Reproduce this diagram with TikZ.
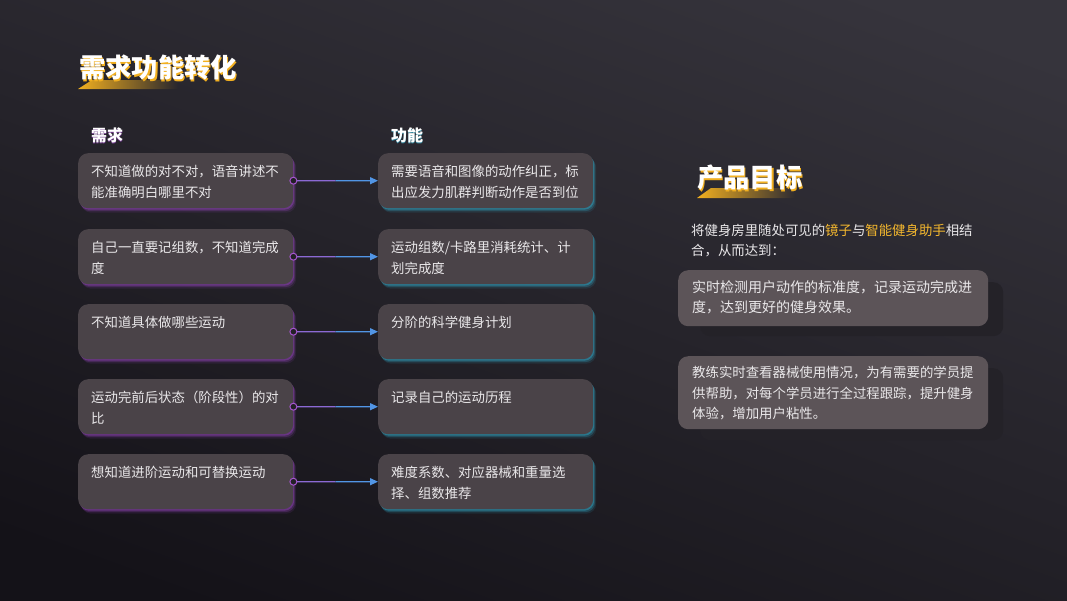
\documentclass[tikz,border=0pt]{standalone}
\usepackage{fontspec}
\setmainfont{Noto Sans CJK SC}
\usetikzlibrary{positioning,arrows.meta,shadows,calc,fadings}

\definecolor{bgtop}{RGB}{54,52,60}
\definecolor{bgbot}{RGB}{20,18,24}
\definecolor{boxfill}{RGB}{74,67,72}
\definecolor{goalfill}{RGB}{92,84,88}
\definecolor{goalshade}{RGB}{36,34,40}
\definecolor{glowpurple}{RGB}{150,70,190}
\definecolor{glowcyan}{RGB}{50,170,200}
\definecolor{linkpurple}{RGB}{165,85,205}
\definecolor{linkblue}{RGB}{60,165,235}
\definecolor{titleyellow}{RGB}{242,176,32}
\definecolor{hiyellow}{RGB}{245,184,46}
\definecolor{textgrey}{RGB}{234,232,234}

\tikzset{
  cardbox/.style={rounded corners=10pt, fill=boxfill, minimum width=215pt,
    minimum height=55pt, anchor=north west, inner sep=0pt},
  needbox/.style={cardbox,
    drop shadow={shadow xshift=1pt, shadow yshift=-1.5pt, fill=glowpurple, opacity=0.45},
    drop shadow={shadow xshift=2pt, shadow yshift=-3pt, fill=glowpurple, opacity=0.25},
    drop shadow={shadow xshift=3pt, shadow yshift=-4.5pt, fill=glowpurple, opacity=0.12}},
  funcbox/.style={cardbox,
    drop shadow={shadow xshift=1pt, shadow yshift=-1.5pt, fill=glowcyan, opacity=0.45},
    drop shadow={shadow xshift=2pt, shadow yshift=-3pt, fill=glowcyan, opacity=0.25},
    drop shadow={shadow xshift=3pt, shadow yshift=-4.5pt, fill=glowcyan, opacity=0.12}},
  goalbox/.style={rounded corners=10pt, fill=goalfill, minimum width=310pt,
    anchor=north west, inner sep=0pt},
  goalshadow/.style={rounded corners=10pt, fill=goalshade, minimum width=303pt,
    anchor=north west, inner sep=0pt},
  boxtext/.style={anchor=north west, inner sep=0pt, align=left, text=textgrey,
    font=\fontsize{13.4}{21}\selectfont},
  headtext/.style={anchor=west, inner sep=0pt, text=white,
    font=\fontsize{16}{18}\selectfont\bfseries},
  titletext/.style={anchor=west, inner sep=0pt, text=white,
    font=\fontsize{26.3}{30}\selectfont\bfseries},
  linkhalf/.style={line width=1.2pt, draw=linkpurple!75!linkblue},
  linkarrow/.style={line width=1.2pt, draw=linkblue!80!linkpurple,
    -{Triangle[length=8pt,width=7pt]}},
  linkdot/.style={circle, draw=linkpurple, fill=bgbot!60!bgtop, line width=1pt,
    inner sep=0pt, minimum size=7pt}
}

\begin{document}
\begin{tikzpicture}[x=1pt,y=-1pt]
    \useasboundingbox (0,0) rectangle (1067,600);
    \shade[top color=bgtop, bottom color=bgbot, shading angle=-20] (-40,-40) rectangle (1107,640);

    % title
    \fill[titleyellow, path fading=east] (78,89) -- (92,80) -- (178,80) -- (178,89) -- cycle;
    \node[titletext, text=titleyellow] (titleglow) at (80.2,69.2) {需求功能转化};
    \node[titletext] (title) at (79,68) {需求功能转化};

    % headings
    \node[headtext, text=glowpurple, opacity=0.7] (needglow) at (91,136.5) {需求};
    \node[headtext] (needhead) at (91,135) {需求};
    \node[headtext, text=glowcyan, opacity=0.7] (funcglow) at (391,136.5) {功能};
    \node[headtext] (funchead) at (391,135) {功能};

    % need boxes
    \node[needbox] (n1) at (78,153) {};
    \node[needbox] (n2) at (78,229) {};
    \node[needbox] (n3) at (78,304) {};
    \node[needbox] (n4) at (78,379) {};
    \node[needbox] (n5) at (78,454) {};
    \node[boxtext] (n1t) at ($(n1.north west)+(13,11.5)$) {不知道做的对不对，语音讲述不\\能准确明白哪里不对};
    \node[boxtext] (n2t) at ($(n2.north west)+(13,11.5)$) {自己一直要记组数，不知道完成\\度};
    \node[boxtext] (n3t) at ($(n3.north west)+(13,12)$) {不知道具体做哪些运动};
    \node[boxtext] (n4t) at ($(n4.north west)+(13,11.5)$) {运动完前后状态（阶段性）的对\\比};
    \node[boxtext] (n5t) at ($(n5.north west)+(13,11.5)$) {想知道进阶运动和可替换运动};

    % function boxes
    \node[funcbox] (f1) at (378,153) {};
    \node[funcbox] (f2) at (378,229) {};
    \node[funcbox] (f3) at (378,304) {};
    \node[funcbox] (f4) at (378,379) {};
    \node[funcbox] (f5) at (378,454) {};
    \node[boxtext] (f1t) at ($(f1.north west)+(13,11.5)$) {需要语音和图像的动作纠正，标\\出应发力肌群判断动作是否到位};
    \node[boxtext] (f2t) at ($(f2.north west)+(13,11.5)$) {运动组数/卡路里消耗统计、计\\划完成度};
    \node[boxtext] (f3t) at ($(f3.north west)+(13,12)$) {分阶的科学健身计划};
    \node[boxtext] (f4t) at ($(f4.north west)+(13,11.5)$) {记录自己的运动历程};
    \node[boxtext] (f5t) at ($(f5.north west)+(13,11.5)$) {难度系数、对应器械和重量选\\择、组数推荐};

    % links
    \draw[linkhalf] (n1.east) -- ($(n1.east)!0.5!(f1.west)$);
    \draw[linkarrow] ($(n1.east)!0.5!(f1.west)$) -- (f1.west);
    \draw[linkhalf] (n2.east) -- ($(n2.east)!0.5!(f2.west)$);
    \draw[linkarrow] ($(n2.east)!0.5!(f2.west)$) -- (f2.west);
    \draw[linkhalf] (n3.east) -- ($(n3.east)!0.5!(f3.west)$);
    \draw[linkarrow] ($(n3.east)!0.5!(f3.west)$) -- (f3.west);
    \draw[linkhalf] (n4.east) -- ($(n4.east)!0.5!(f4.west)$);
    \draw[linkarrow] ($(n4.east)!0.5!(f4.west)$) -- (f4.west);
    \draw[linkhalf] (n5.east) -- ($(n5.east)!0.5!(f5.west)$);
    \draw[linkarrow] ($(n5.east)!0.5!(f5.west)$) -- (f5.west);
    \node[linkdot] (d1) at (n1.east) {};
    \node[linkdot] (d2) at (n2.east) {};
    \node[linkdot] (d3) at (n3.east) {};
    \node[linkdot] (d4) at (n4.east) {};
    \node[linkdot] (d5) at (n5.east) {};

    % goals
    \fill[titleyellow, path fading=east] (697,198) -- (711,188) -- (795,188) -- (795,198) -- cycle;
    \node[titletext, text=titleyellow] (goalglow) at (698.2,179.2) {产品目标};
    \node[titletext] (goaltitle) at (697,178) {产品目标};
    \node[boxtext, font=\fontsize{13.4}{20}\selectfont] (intro) at (691,223.5)
        {将健身房里随处可见的\textcolor{hiyellow}{镜子}与\textcolor{hiyellow}{智能健身助手}相结\\合，从而达到：};

    \node[goalshadow, minimum height=54pt] (g1s) at (700,282) {};
    \node[goalbox, minimum height=56pt] (g1) at (678,270) {};
    \node[boxtext, font=\fontsize{14}{20}\selectfont] (g1t) at ($(g1.north west)+(14,10.5)$)
        {实时检测用户动作的标准度，记录运动完成进\\度，达到更好的健身效果。};

    \node[goalshadow, minimum height=72pt] (g2s) at (700,368) {};
    \node[goalbox, minimum height=73pt] (g2) at (678,356) {};
    \node[boxtext, font=\fontsize{13.4}{20.5}\selectfont] (g2t) at ($(g2.north west)+(14,10)$)
        {教练实时查看器械使用情况，为有需要的学员提\\供帮助，对每个学员进行全过程跟踪，提升健身\\体验，增加用户粘性。};
\end{tikzpicture}
\end{document}
